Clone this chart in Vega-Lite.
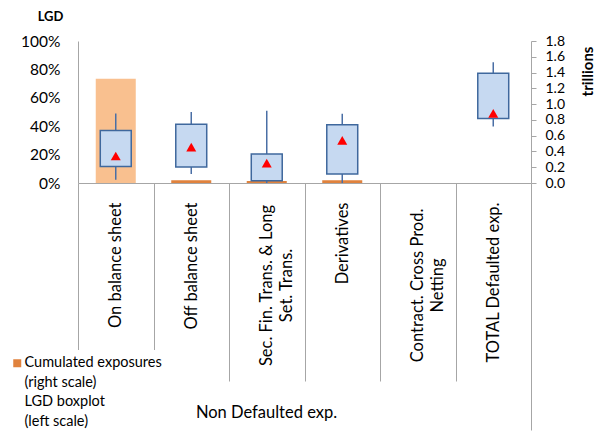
{
  "$schema": "https://vega.github.io/schema/vega-lite/v6.json",
  "width": 453,
  "height": 142,
  "autosize": {"type": "none"},
  "padding": {"left": 78, "top": 41, "right": 65, "bottom": 249},
  "background": "white",
  "config": {
    "font": "Lato",
    "view": {"stroke": null},
    "axis": {"grid": false, "domainColor": "#A6A6A6", "tickColor": "#A6A6A6", "labelColor": "#000000", "titleColor": "#000000", "gridColor": "#A6A6A6"},
    "axisLeft": {
      "grid": true, "ticks": false, "labelPadding": 18, "labelFontSize": 15.5,
      "titleAngle": 0, "titleX": -28, "titleY": -25, "titleAlign": "center", "titleBaseline": "middle",
      "titleFontSize": 13, "titleFontWeight": "bold"
    },
    "axisRight": {
      "grid": false, "ticks": true, "tickSize": 5, "labelPadding": 9, "labelFontSize": 14,
      "titleAngle": 270, "titleX": 56, "titleY": 30, "titleAlign": "center", "titleBaseline": "middle",
      "titleFontSize": 15, "titleFontWeight": "bold"
    }
  },
  "data": {
    "values": [
      {"cat": "On balance sheet", "series": "Cumulated exposures", "exposure": 1.32, "min": 0.023, "q1": 0.117, "q3": 0.37, "max": 0.49, "mean": 0.19},
      {"cat": "Off balance sheet", "series": "Cumulated exposures", "exposure": 0.035, "min": 0.063, "q1": 0.112, "q3": 0.414, "max": 0.5, "mean": 0.253},
      {"cat": "Sec. Fin. Trans. & Long Set. Trans.", "series": "Cumulated exposures", "exposure": 0.026, "min": 0.0, "q1": 0.016, "q3": 0.204, "max": 0.508, "mean": 0.14},
      {"cat": "Derivatives", "series": "Cumulated exposures", "exposure": 0.035, "min": 0.0, "q1": 0.063, "q3": 0.41, "max": 0.487, "mean": 0.3},
      {"cat": "Contract. Cross Prod. Netting", "series": "Cumulated exposures", "exposure": null, "min": null, "q1": null, "q3": null, "max": null, "mean": null},
      {"cat": "TOTAL Defaulted exp.", "series": "Cumulated exposures", "exposure": null, "min": 0.398, "q1": 0.454, "q3": 0.773, "max": 0.85, "mean": 0.49}
    ]
  },
  "encoding": {
    "x": {
      "field": "cat", "type": "nominal", "sort": null,
      "scale": {
        "domain": ["On balance sheet", "Off balance sheet", "Sec. Fin. Trans. & Long Set. Trans.", "Derivatives", "Contract. Cross Prod. Netting", "TOTAL Defaulted exp."],
        "paddingInner": 0, "paddingOuter": 0
      },
      "axis": {
        "title": "Non Defaulted exp.",
        "titleX": 188, "titleY": 229, "titleAlign": "center", "titleBaseline": "middle",
        "titleFontSize": 16.5, "titleFontWeight": "normal",
        "labelAngle": 270, "labelFontSize": 16.5, "labelLineHeight": 20, "labelLimit": 400,
        "labelBaseline": "middle",
        "labelExpr": "datum.value == 'Sec. Fin. Trans. & Long Set. Trans.' ? ['Sec. Fin. Trans. & Long', 'Set. Trans.'] : datum.value == 'Contract. Cross Prod. Netting' ? ['Contract. Cross Prod.', 'Netting'] : datum.label",
        "labelAlign": {"condition": {"test": "datum.value == 'Sec. Fin. Trans. & Long Set. Trans.' || datum.value == 'Contract. Cross Prod. Netting'", "value": "center"}, "value": "right"},
        "labelPadding": {"condition": [
          {"test": "datum.value == 'Sec. Fin. Trans. & Long Set. Trans.' || datum.value == 'Contract. Cross Prod. Netting'", "value": -96},
          {"test": "datum.value == 'TOTAL Defaulted exp.'", "value": -228}
        ], "value": -179},
        "tickBand": "extent",
        "tickSize": {"condition": {"test": "indexof(['On balance sheet','Off balance sheet','Sec. Fin. Trans. & Long Set. Trans.','Derivatives','Contract. Cross Prod. Netting'], datum.value) >= 0", "value": 198}, "value": 247}
      }
    }
  },
  "layer": [
    {
      "mark": {"type": "bar", "width": {"band": 0.53}},
      "encoding": {
        "y": {
          "field": "exposure", "type": "quantitative", "title": "trillions",
          "scale": {"domain": [0, 1.8], "nice": false},
          "axis": {"orient": "right", "values": [0, 0.2, 0.4, 0.6, 0.8, 1.0, 1.2, 1.4, 1.6, 1.8], "format": ".1f"}
        },
        "color": {
          "field": "series", "type": "nominal",
          "condition": {"test": "datum.cat == 'On balance sheet'", "value": "#F9C08F"},
          "scale": {"domain": ["Cumulated exposures", "(right scale)", "LGD boxplot", "(left scale)"], "range": ["#E0823D", "rgba(255,255,255,0)", "rgba(255,255,255,0)", "rgba(255,255,255,0)"]},
          "legend": {
            "orient": "none", "legendX": -74, "legendY": 309, "title": null,
            "padding": 6, "fillColor": "white",
            "symbolType": "square", "symbolSize": 64, "symbolStrokeWidth": 0, "symbolOpacity": 1,
            "labelFontSize": 14.5, "labelOffset": 0, "labelBaseline": "middle", "rowPadding": 4.5, "labelLimit": 300
          }
        }
      }
    },
    {
      "layer": [
        {
          "mark": {"type": "rule", "color": "#4A6FA5", "strokeWidth": 1.5},
          "encoding": {
            "y": {"field": "min", "type": "quantitative", "title": "LGD", "scale": {"domain": [0, 1], "nice": false}, "axis": {"orient": "left", "values": [0, 0.2, 0.4, 0.6, 0.8, 1.0], "format": ".0%"}},
            "y2": {"field": "max"}
          }
        },
        {
          "mark": {"type": "bar", "width": {"band": 0.41}, "fill": "#C6D9F1", "stroke": "#3F689D", "strokeWidth": 1.5},
          "encoding": {
            "y": {"field": "q1", "type": "quantitative", "title": "LGD", "scale": {"domain": [0, 1], "nice": false}, "axis": {"orient": "left", "values": [0, 0.2, 0.4, 0.6, 0.8, 1.0], "format": ".0%"}},
            "y2": {"field": "q3"}
          }
        },
        {
          "mark": {"type": "point", "shape": "triangle-up", "filled": true, "color": "#FF0000", "size": 100, "opacity": 1},
          "encoding": {
            "y": {"field": "mean", "type": "quantitative", "title": "LGD", "scale": {"domain": [0, 1], "nice": false}, "axis": {"orient": "left", "values": [0, 0.2, 0.4, 0.6, 0.8, 1.0], "format": ".0%"}}
          }
        }
      ]
    }
  ],
  "resolve": {"scale": {"y": "independent"}}
}
